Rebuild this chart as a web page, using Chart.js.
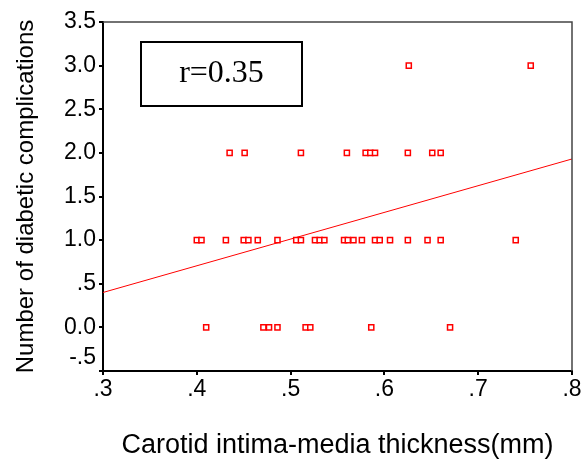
<!DOCTYPE html>
<html>
<head>
<meta charset="utf-8">
<script src="https://cdn.jsdelivr.net/npm/chart.js@4/dist/chart.umd.min.js"></script>
<style>
  html, body { margin: 0; padding: 0; background: #fff; }
  #wrap { width: 584px; height: 462px; position: relative; }
</style>
</head>
<body>
<div id="wrap"><canvas id="chart" width="584" height="462"></canvas></div>
<script>
// ─── DATA ────────────────────────────────────────────
const cimtMm = [
  0.626, 0.756,
  0.435, 0.451, 0.511, 0.560, 0.580, 0.585, 0.590, 0.625, 0.651, 0.660,
  0.400, 0.405, 0.431, 0.450, 0.455, 0.465, 0.486, 0.506, 0.511, 0.526, 0.531, 0.536,
  0.557, 0.561, 0.567, 0.576, 0.590, 0.595, 0.606, 0.625, 0.646, 0.660, 0.740,
  0.410, 0.471, 0.477, 0.486, 0.516, 0.521, 0.586, 0.670,
];
const complications = [
  3, 3,
  2, 2, 2, 2, 2, 2, 2, 2, 2, 2,
  1, 1, 1, 1, 1, 1, 1, 1, 1, 1, 1, 1,
  1, 1, 1, 1, 1, 1, 1, 1, 1, 1, 1,
  0, 0, 0, 0, 0, 0, 0, 0,
];
const fitX = [0.3, 0.8];
const fitY = [0.40, 1.93];

const xTickLabels = ['.3', '.4', '.5', '.6', '.7', '.8'];
const yTickLabels = ['-.5', '0.0', '.5', '1.0', '1.5', '2.0', '2.5', '3.0', '3.5'];
const corrLabel = 'r=0.35';

// ─── FRAME + r BOX ───────────────────────────────────
const framePlugin = {
  id: 'frame',
  afterDraw(chart) {
    const { ctx, chartArea: a } = chart;
    ctx.save();
    ctx.strokeStyle = '#444';
    ctx.lineWidth = 1.5;
    ctx.beginPath();
    ctx.moveTo(a.left, a.top);
    ctx.lineTo(a.right, a.top);
    ctx.lineTo(a.right, a.bottom);
    ctx.stroke();

    // correlation box
    ctx.strokeStyle = '#000';
    ctx.lineWidth = 2;
    ctx.strokeRect(141, 42, 161, 64);
    ctx.fillStyle = '#000';
    ctx.font = '32px "Liberation Serif", "Times New Roman", serif';
    ctx.textAlign = 'center';
    ctx.textBaseline = 'middle';
    ctx.fillText(corrLabel, 221.5, 74);
    ctx.restore();
  }
};

// ─── CHART ───────────────────────────────────────────
const points = cimtMm.map((x, i) => ({ x, y: complications[i] }));
const fitLine = fitX.map((x, i) => ({ x, y: fitY[i] }));
const tickFont = { family: '"Liberation Sans", Arial, sans-serif', size: 23 };

new Chart(document.getElementById('chart'), {
  type: 'scatter',
  data: {
    datasets: [
      {
        data: points,
        pointStyle: 'rect',
        pointRadius: 3.6,
        pointBorderWidth: 1.5,
        borderColor: '#ff0000',
        backgroundColor: '#ffffff',
      },
      {
        type: 'line',
        data: fitLine,
        borderColor: '#ff0000',
        borderWidth: 1,
        pointRadius: 0,
        fill: false,
      },
    ],
  },
  options: {
    responsive: false,
    animation: false,
    layout: { padding: { top: 22, right: 12, left: 0, bottom: 0 } },
    plugins: { legend: { display: false }, tooltip: { enabled: false } },
    scales: {
      x: {
        type: 'linear',
        min: 0.3, max: 0.8,
        afterFit: (s) => { s.height = 91; },
        afterBuildTicks: (s) => { s.ticks = xTickLabels.map((_, i) => ({ value: 0.3 + i * 0.1 })); },
        grid: { drawOnChartArea: false, tickLength: 4, color: '#000', lineWidth: 2 },
        border: { color: '#000', width: 2 },
        ticks: {
          color: '#000', font: tickFont, padding: 1, maxRotation: 0, autoSkip: false,
          callback: (v, i) => xTickLabels[i],
        },
        title: {
          display: true, text: 'Carotid intima-media thickness(mm)',
          color: '#000', font: { family: '"Liberation Sans", Arial, sans-serif', size: 27 },
          padding: { top: 0, bottom: 0 },
        },
      },
      y: {
        min: -0.5, max: 3.5,
        afterFit: (s) => { s.width = 103; },
        afterBuildTicks: (s) => { s.ticks = yTickLabels.map((_, i) => ({ value: -0.5 + i * 0.5 })); },
        grid: { drawOnChartArea: false, tickLength: 4, color: '#000', lineWidth: 2 },
        border: { color: '#000', width: 2 },
        ticks: {
          color: '#000', font: tickFont, padding: 3, autoSkip: false,
          callback: (v, i) => (i === 0 ? [yTickLabels[i], ''] : yTickLabels[i]),
        },
        title: {
          display: true, text: 'Number of diabetic complications',
          color: '#000', font: { family: '"Liberation Sans", Arial, sans-serif', size: 24 },
          padding: { top: 12, bottom: 0 },
        },
      },
    },
  },
  plugins: [framePlugin],
});
</script>
</body>
</html>
